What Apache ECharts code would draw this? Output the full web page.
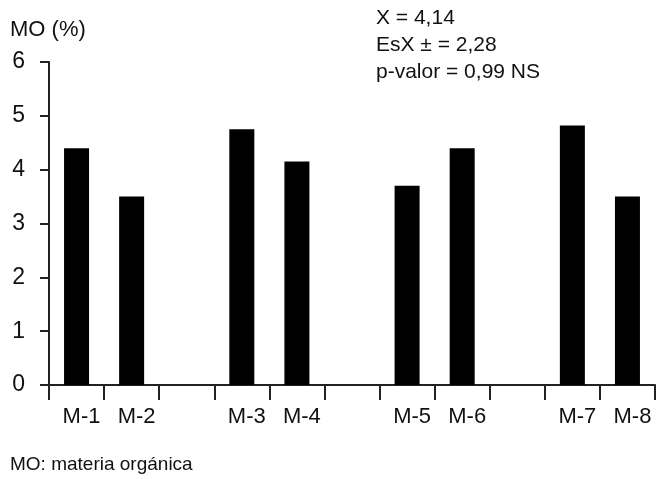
<!DOCTYPE html>
<html>
<head>
<meta charset="utf-8">
<script src="https://cdn.jsdelivr.net/npm/echarts@6/dist/echarts.min.js"></script>
<style>
html,body{margin:0;padding:0;background:#fff;}
#chart{width:664px;height:479px;}
</style>
</head>
<body>
<div id="chart"></div>
<script>
// Data
var categories = ['M-1', 'M-2', '', 'M-3', 'M-4', '', 'M-5', 'M-6', '', 'M-7', 'M-8'];
var moValues = [4.4, 3.5, null, 4.75, 4.15, null, 3.7, 4.4, null, 4.82, 3.5];
var yTicks = [0, 1, 2, 3, 4, 5, 6];
var statsLines = ['X = 4,14', 'EsX \u00b1 = 2,28', 'p-valor = 0,99 NS'];
var yAxisTitle = 'MO (%)';
var footnote = 'MO: materia org\u00e1nica';

var FONT = '"Liberation Sans", Arial, Helvetica, sans-serif';
var chart = echarts.init(document.getElementById('chart'), null, {renderer: 'canvas'});
chart.setOption({
  animation: false,
  backgroundColor: '#ffffff',
  textStyle: {fontFamily: FONT},
  grid: {left: 49, right: 9, top: 62, bottom: 94, containLabel: false, outerBoundsMode: 'none'},
  title: {
    text: statsLines.join('\n'),
    left: 371, top: 0,
    textStyle: {fontFamily: FONT, fontSize: 21, fontWeight: 'normal', color: '#111', lineHeight: 27}
  },
  xAxis: {
    type: 'category',
    data: categories,
    boundaryGap: true,
    axisLine: {lineStyle: {color: '#222', width: 2}},
    axisTick: {show: true, length: 15, lineStyle: {color: '#222', width: 2}, alignWithLabel: false, interval: 0},
    axisLabel: {interval: 0, margin: 21, fontSize: 22, color: '#111', fontFamily: FONT, padding: [0, 0, 0, 10]},
    splitLine: {show: false}
  },
  yAxis: {
    type: 'value',
    min: yTicks[0], max: yTicks[yTicks.length - 1], interval: 1,
    name: yAxisTitle,
    nameLocation: 'end',
    nameGap: 32,
    nameTextStyle: {fontFamily: FONT, fontSize: 22, color: '#111', align: 'left', verticalAlign: 'middle', padding: [0, 0, 0, -39]},
    axisLine: {show: true, lineStyle: {color: '#222', width: 2}},
    axisTick: {show: true, length: 9, lineStyle: {color: '#222', width: 2}},
    axisLabel: {margin: 24, fontSize: 23, color: '#111', fontFamily: FONT},
    splitLine: {show: false}
  },
  series: [{
    type: 'bar',
    data: moValues,
    barWidth: 25,
    itemStyle: {color: '#000'}
  }],
  graphic: [{
    type: 'text',
    left: 10, top: 455,
    style: {text: footnote, fontFamily: FONT, fontSize: 19, fill: '#111'}
  }]
});
</script>
</body>
</html>
